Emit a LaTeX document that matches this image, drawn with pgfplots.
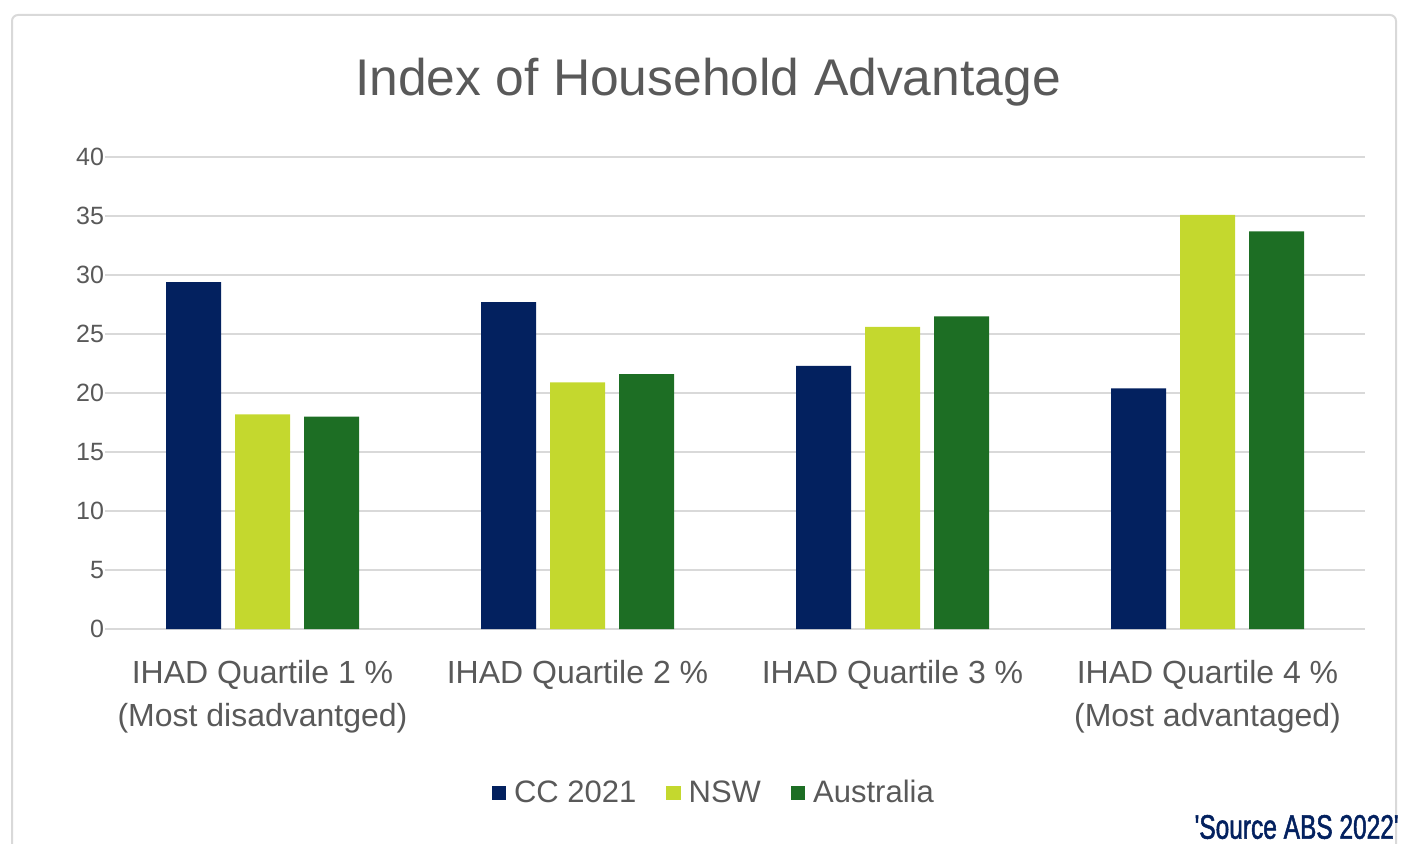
\documentclass[border=0pt]{standalone}
\usepackage{pgfplots}
\pgfplotsset{compat=1.18}
\usepackage{fontspec}
\setmainfont{Liberation Sans}
\newfontfamily\srcfont[FakeStretch=0.72,FakeBold=1.5]{Liberation Sans}
\definecolor{ccnavy}{HTML}{03215F}
\definecolor{nswlime}{HTML}{C4D82E}
\definecolor{ausgreen}{HTML}{1D6E24}
\definecolor{txtgrey}{HTML}{595959}
\definecolor{gridgrey}{HTML}{D9D9D9}
\begin{document}
\begin{tikzpicture}
\useasboundingbox (0pt,0pt) rectangle (700.5pt,421.5pt);
\draw[gridgrey, line width=1pt, rounded corners=3pt] (6pt,414pt) rectangle (698pt,-10pt);
\node[txtgrey, font=\fontsize{25.8}{30}\selectfont] at (354pt,380.5pt) {Index of Household Advantage};
\begin{axis}[
  at={(52.5pt,107pt)}, anchor=south west,
  scale only axis, width=630pt, height=236pt,
  ymin=0, ymax=40, ytick={0,5,...,40},
  xmin=-0.5, xmax=3.5, xtick={0,1,2,3},
  xticklabels={{IHAD Quartile 1 \%\\(Most disadvantged)},{IHAD Quartile 2 \%},{IHAD Quartile 3 \%},{IHAD Quartile 4 \%\\(Most advantaged)}},
  ybar=7pt, bar width=27.5pt,
  axis line style={draw=none},
  major tick length=0pt,
  ymajorgrids, grid style={gridgrey, line width=0.8pt},
  yticklabel style={font=\fontsize{12.5}{14}\selectfont, text=txtgrey, xshift=3pt},
  xticklabel style={font=\fontsize{16}{21.5}\selectfont, text=txtgrey, align=center, anchor=north, yshift=-12pt},
  /pgf/number format/assume math mode=true,
  legend style={at={(0.484,-0.347)}, anchor=center, draw=none, fill=none,
    legend columns=-1, font=\fontsize{15.5}{18}\selectfont, text=txtgrey,
    /tikz/every odd column/.append style={column sep=2pt},
    /tikz/every even column/.append style={column sep=13pt}},
  legend image code/.code={\fill[#1] (0cm,-0.125cm) rectangle (0.25cm,0.125cm);},
]
\addplot[fill=ccnavy, draw=none] coordinates {(0,29.4) (1,27.7) (2,22.3) (3,20.4)};
\addplot[fill=nswlime, draw=none] coordinates {(0,18.2) (1,20.9) (2,25.6) (3,35.1)};
\addplot[fill=ausgreen, draw=none] coordinates {(0,18.0) (1,21.6) (2,26.5) (3,33.7)};
\legend{CC 2021, NSW, Australia}
\end{axis}
\node[anchor=east, text=ccnavy, font=\srcfont\fontsize{17}{19}\selectfont, inner sep=0pt] at (699.5pt,8pt) {'Source ABS 2022'};
\end{tikzpicture}
\end{document}
